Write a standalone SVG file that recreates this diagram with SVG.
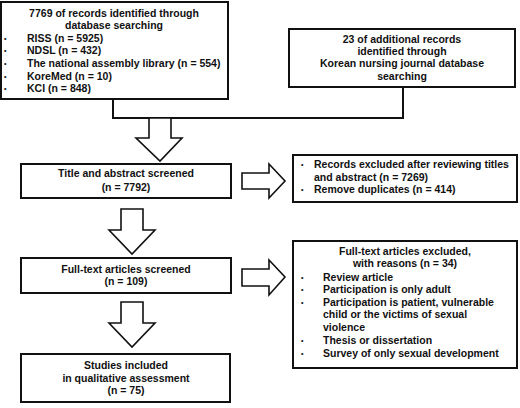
<svg xmlns="http://www.w3.org/2000/svg" width="520" height="408" viewBox="0 0 520 408">
  <style>
    .box { fill: #fff; stroke: #111; stroke-width: 2; }
    .blk { fill: #fff; stroke: #111; stroke-width: 1.6; stroke-linejoin: miter; }
    .line { fill: none; stroke: #111; stroke-width: 2; }
    text { font-family: "Liberation Sans", Arial, sans-serif; font-weight: bold; font-size: 10.5px; fill: #111; }
    .c { text-anchor: middle; }
    .b { font-size: 7px; }
  </style>
  <rect width="520" height="408" fill="#fff"/>

  <!-- connectors -->
  <g id="connectors">
    <polyline class="line" points="113,99 113,118 403,118 403,87"/>
    <!-- down block arrows -->
    <polygon class="blk" points="149,118 171,118 171,138 182,138 160,161 136,138 149,138"/>
    <polygon class="blk" points="121,209 143,209 143,230 155,230 132,254 109,230 121,230"/>
    <polygon class="blk" points="121,302 143,302 143,323 155,323 132,347 109,323 121,323"/>
    <!-- right block arrows -->
    <polygon class="blk" points="242,173 269,173 269,164 285,181 269,198 269,189 242,189"/>
    <polygon class="blk" points="242,269 269,269 269,260 285,277 269,295 269,286 242,286"/>
  </g>

  <g id="db-search">
    <rect class="box" x="1" y="2" width="227" height="97"/>
    <text class="c" x="114" y="17">7769 of records identified through</text>
    <text class="c" x="114" y="29">database searching</text>
    <text class="b" x="4" y="41">•</text><text x="27" y="42">RISS (n = 5925)</text>
    <text class="b" x="4" y="53">•</text><text x="27" y="54">NDSL (n = 432)</text>
    <text class="b" x="4" y="66">•</text><text x="27" y="67">The national assembly library (n = 554)</text>
    <text class="b" x="4" y="79">•</text><text x="27" y="80">KoreMed (n = 10)</text>
    <text class="b" x="4" y="91">•</text><text x="27" y="92">KCI (n = 848)</text>
  </g>

  <g id="additional">
    <rect class="box" x="289" y="29" width="226" height="58"/>
    <text class="c" x="402" y="43">23 of additional records</text>
    <text class="c" x="402" y="55">identified through</text>
    <text class="c" x="402" y="67">Korean nursing journal database</text>
    <text class="c" x="402" y="80">searching</text>
  </g>

  <g id="title-screened">
    <rect class="box" x="21" y="164" width="210" height="34"/>
    <text class="c" x="126" y="177">Title and abstract screened</text>
    <text class="c" x="126" y="191">(n = 7792)</text>
  </g>

  <g id="excluded-1">
    <rect class="box" x="293" y="155" width="224" height="47"/>
    <text class="b" x="301" y="167">•</text><text x="314" y="168">Records excluded after reviewing titles</text>
    <text x="314" y="181">and abstract (n = 7269)</text>
    <text class="b" x="301" y="192">•</text><text x="314" y="193">Remove duplicates (n = 414)</text>
  </g>

  <g id="fulltext-screened">
    <rect class="box" x="21" y="258" width="210" height="35"/>
    <text class="c" x="126" y="273">Full-text articles screened</text>
    <text class="c" x="126" y="285">(n = 109)</text>
  </g>

  <g id="excluded-2">
    <rect class="box" x="293" y="241" width="224" height="127"/>
    <text class="c" x="405" y="255">Full-text articles excluded,</text>
    <text class="c" x="405" y="267">with reasons (n = 34)</text>
    <text class="b" x="301" y="280">•</text><text x="323" y="281">Review article</text>
    <text class="b" x="301" y="292">•</text><text x="323" y="293">Participation is only adult</text>
    <text class="b" x="301" y="305">•</text><text x="323" y="306">Participation is patient, vulnerable</text>
    <text x="323" y="318">child or the victims of sexual</text>
    <text x="323" y="331">violence</text>
    <text class="b" x="301" y="343">•</text><text x="323" y="344">Thesis or dissertation</text>
    <text class="b" x="301" y="356">•</text><text x="323" y="357">Survey of only sexual development</text>
  </g>

  <g id="included">
    <rect class="box" x="21" y="354" width="209" height="48"/>
    <text class="c" x="126" y="369">Studies included</text>
    <text class="c" x="126" y="382">in qualitative assessment</text>
    <text class="c" x="126" y="394">(n = 75)</text>
  </g>
</svg>
